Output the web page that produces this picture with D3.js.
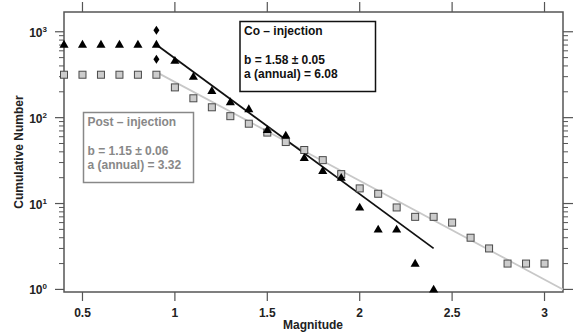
<!DOCTYPE html>
<html>
<head>
<meta charset="utf-8">
<script src="https://cdn.jsdelivr.net/npm/d3@7"></script>
<style>
  body { margin: 0; background: #fff; }
  svg text { font-family: "Liberation Sans", Arial, sans-serif; font-weight: bold; }
</style>
</head>
<body>
<svg id="chart" width="574" height="335"></svg>
<script>
// magnitude bins
const magsAll = [0.4, 0.5, 0.6, 0.7, 0.8, 0.9, 1.0, 1.1, 1.2, 1.3, 1.4, 1.5, 1.6, 1.7,
  1.8, 1.9, 2.0, 2.1, 2.2, 2.3, 2.4, 2.5, 2.6, 2.7, 2.8, 2.9, 3.0];

// co-injection cumulative counts (triangles), 0.4 .. 2.4
const coCounts = [710, 710, 710, 710, 710, 710, 460, 300, 205, 152, 126, 72, 62, 34,
  24, 20, 9, 5, 5, 2, 1];

// post-injection cumulative counts (squares), 0.4 .. 3.0
const postCounts = [316, 316, 316, 316, 316, 316, 225, 168, 132, 104, 85, 67, 52, 42,
  32, 22, 15, 13, 9, 7, 7, 6, 4, 3, 2, 2, 2];

// the two extra diamonds at M = 0.9
const diamondMag = [0.9, 0.9];
const diamondCounts = [1040, 477];

// fitted Gutenberg-Richter lines: log10 N = a0 - b * M
const coFit = { b: 1.58, a0: 4.27, from: 0.9, to: 2.4 };
const postFit = { b: 1.15, a0: 3.565, from: 0.9, to: 3.1 };

const xTicks = [0.5, 1, 1.5, 2, 2.5, 3];
const decades = [0, 1, 2, 3];

const coText = ['Co \u2013 injection', '', 'b = 1.58 \u00b1 0.05', 'a (annual) = 6.08'];
const postText = ['Post \u2013 injection', '', 'b = 1.15 \u00b1 0.06', 'a (annual) = 3.32'];

const pL = 64, pT = 12, pR = 563, pB = 292;
const frame = '#555';

const svg = d3.select('#chart');

const x = d3.scaleLinear().domain([0.4, 3.1]).range([pL, pR]);
const y = d3.scaleLog().domain([Math.pow(10, -0.03), Math.pow(10, 3.23)]).range([pB, pT]);

// minor ticks on the log axis
const minor = [];
decades.forEach(d => {
  for (let k = 2; k <= 9; k++) {
    const v = k * Math.pow(10, d);
    if (y(v) >= pT) minor.push(v);
  }
});

// frame
svg.append('rect')
  .attr('x', pL).attr('y', pT)
  .attr('width', pR - pL).attr('height', pB - pT)
  .attr('fill', 'none').attr('stroke', frame).attr('stroke-width', 1.5);

// bottom and top ticks
const xAxis = svg.append('g');
xTicks.forEach(t => {
  xAxis.append('line')
    .attr('x1', x(t)).attr('x2', x(t)).attr('y1', pB).attr('y2', pB + 9)
    .attr('stroke', frame).attr('stroke-width', 1.2);
  xAxis.append('line')
    .attr('x1', x(t)).attr('x2', x(t)).attr('y1', pT).attr('y2', pT - 10)
    .attr('stroke', frame).attr('stroke-width', 1.2);
  xAxis.append('text')
    .attr('x', x(t)).attr('y', pB + 25)
    .attr('text-anchor', 'middle').attr('font-size', 12).attr('fill', '#222')
    .text(t);
});

// left and right ticks
const yAxis = svg.append('g');
decades.forEach(d => {
  const v = Math.pow(10, d);
  yAxis.append('line')
    .attr('x1', pL).attr('x2', pL - 9).attr('y1', y(v)).attr('y2', y(v))
    .attr('stroke', frame).attr('stroke-width', 1.2);
  yAxis.append('line')
    .attr('x1', pR).attr('x2', pR + 10).attr('y1', y(v)).attr('y2', y(v))
    .attr('stroke', frame).attr('stroke-width', 1.2);
  const lab = yAxis.append('text')
    .attr('x', 47).attr('y', y(v) + 5)
    .attr('text-anchor', 'end').attr('font-size', 12).attr('fill', '#222');
  lab.append('tspan').text('10');
  lab.append('tspan').attr('font-size', 8).attr('dy', -5).text(d);
});
minor.forEach(v => {
  yAxis.append('line')
    .attr('x1', pL).attr('x2', pL - 5).attr('y1', y(v)).attr('y2', y(v))
    .attr('stroke', frame).attr('stroke-width', 1);
  yAxis.append('line')
    .attr('x1', pR).attr('x2', pR + 5).attr('y1', y(v)).attr('y2', y(v))
    .attr('stroke', frame).attr('stroke-width', 1);
});

// axis titles
svg.append('text')
  .attr('x', 313).attr('y', 329)
  .attr('text-anchor', 'middle').attr('font-size', 12).attr('fill', '#222')
  .text('Magnitude');
svg.append('text')
  .attr('transform', `translate(23,${(pT + pB) / 2}) rotate(-90)`)
  .attr('text-anchor', 'middle').attr('font-size', 12).attr('fill', '#222')
  .text('Cumulative Number');

// fit lines
const fitLine = (fit, color) => {
  const pts = [fit.from, fit.to].map(m => [m, Math.pow(10, fit.a0 - fit.b * m)]);
  svg.append('line')
    .attr('x1', x(pts[0][0])).attr('y1', y(pts[0][1]))
    .attr('x2', x(pts[1][0])).attr('y2', y(pts[1][1]))
    .attr('stroke', color).attr('stroke-width', 1.8);
};
fitLine(postFit, '#c8c8c8');
fitLine(coFit, '#111');

// squares
svg.append('g').selectAll('rect')
  .data(postCounts)
  .join('rect')
  .attr('x', (d, i) => x(magsAll[i]) - 3.5)
  .attr('y', d => y(d) - 3.5)
  .attr('width', 7).attr('height', 7)
  .attr('fill', '#cccccc').attr('stroke', '#4a4a4a').attr('stroke-width', 1);

// triangles
const tri = d3.symbol().type(d3.symbolTriangle).size(36);
svg.append('g').selectAll('path')
  .data(coCounts)
  .join('path')
  .attr('d', tri)
  .attr('transform', (d, i) => `translate(${x(magsAll[i])},${y(d) + 0.5})`)
  .attr('fill', '#000');

// diamonds
svg.append('g').selectAll('path')
  .data(diamondCounts)
  .join('path')
  .attr('d', 'M0,-4.5L3,0L0,4.5L-3,0Z')
  .attr('transform', (d, i) => `translate(${x(diamondMag[i])},${y(d)})`)
  .attr('fill', '#000');

// annotation boxes
const box = (bx, by, bw, bh, lines, color) => {
  const g = svg.append('g');
  g.append('rect')
    .attr('x', bx).attr('y', by).attr('width', bw).attr('height', bh)
    .attr('fill', '#fff').attr('stroke', color).attr('stroke-width', 1.5);
  const dy = [13, 27, 42, 56];
  lines.forEach((t, i) => {
    if (!t) return;
    g.append('text')
      .attr('x', bx + 4).attr('y', by + dy[i])
      .attr('font-size', 12).attr('fill', color)
      .text(t);
  });
};
box(240, 21.5, 135.5, 70, coText, '#111');
box(83.5, 112.5, 110, 70, postText, '#888');
</script>
</body>
</html>
